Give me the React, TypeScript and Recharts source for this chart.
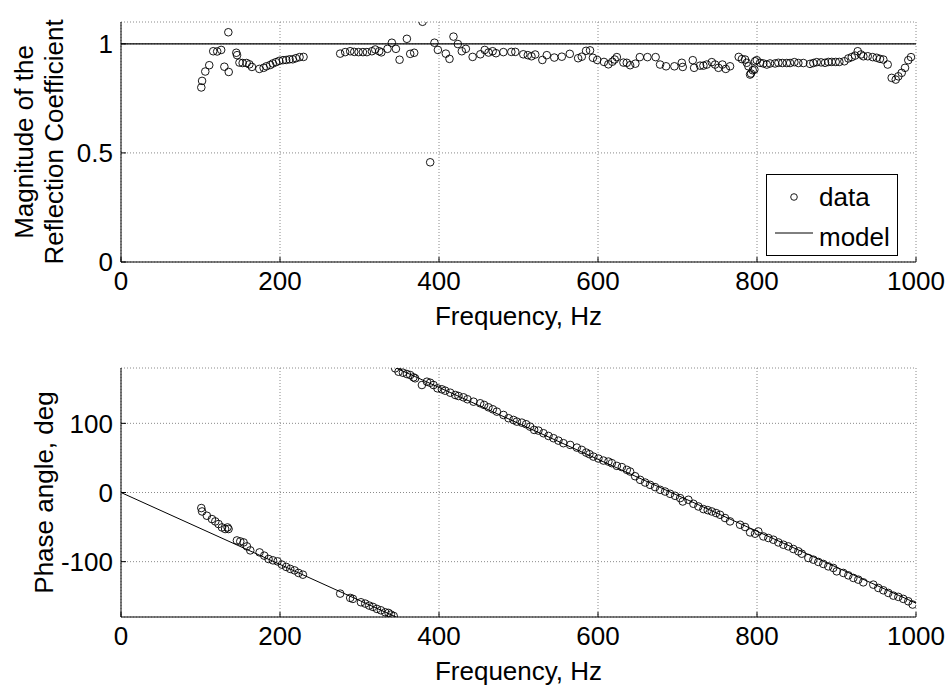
import React from 'react';
import { ComposedChart, Scatter, XAxis, YAxis, CartesianGrid, Legend, Label } from 'recharts';

const FONT = '"Liberation Sans", Arial, Helvetica, sans-serif';

// axis ticks
const freqTicks = [0, 200, 400, 600, 800, 1000];
const magTicks = [0, 0.5, 1];
const phaseTicks = [-100, 0, 100];

// measured magnitude of the reflection coefficient
const magFreq = [
  101, 102, 106, 111, 116, 121, 126, 130, 135, 135.5,
  145, 146, 149, 153, 158, 161.5, 164.7, 174, 179.4, 183,
  187.7, 191, 195, 199, 203.7, 207.8, 212, 216, 220, 224.6,
  229.6,
  275.7, 282, 288.3, 293.4, 298.8, 304.3, 309.3, 315.6, 319.8, 324.8,
  327.5, 335.2, 340.7, 345.8, 350.4, 359.6, 363.8, 368.8, 379.3, 388.9,
  394.3, 398.6, 408.6, 413.2, 418.2, 423.7, 428.7, 433.8, 442.3, 452,
  457.5, 462.3, 467.5, 471.7, 481, 491, 496, 506, 511.7, 516.3,
  521, 530, 535.6, 545, 554.5, 564.5, 575, 579.6, 585, 590,
  593.6, 599, 607.5, 613, 618, 621, 623.7, 632, 636.2, 640.4,
  647, 652.6, 662.2, 672.5, 678.1, 685.6, 696.1, 705.4, 706.6, 719.2,
  720.9, 728.4, 732.6, 736.8, 743.1, 747.3, 751.5, 756.5, 760.7, 766.1,
  777, 781, 785, 787.1, 789.2, 791.3, 792.5, 794.6, 796.7, 797.6,
  799.7, 803.9, 808, 812.3, 816.4, 822.7, 826.9, 831.9, 837.4, 841.6,
  847, 852, 858.3, 866.7, 870.9, 875.1, 880.6, 885.6, 889.8, 894,
  899, 903.6, 909.9, 914.9, 919.2, 923.3, 926.7, 930.8, 933.8, 939.3,
  945.5, 950.6, 954.7, 958.9, 964.4, 969.4, 974.5, 977.8, 982, 986.2,
  990.3, 993.7,
];
const magValue = [
  0.8, 0.83, 0.873, 0.902, 0.966, 0.965, 0.972, 0.895, 1.053, 0.871,
  0.959, 0.948, 0.914, 0.912, 0.912, 0.906, 0.894, 0.885, 0.89, 0.897,
  0.903, 0.91, 0.916, 0.922, 0.925, 0.926, 0.929, 0.929, 0.934, 0.939,
  0.94,
  0.955, 0.962, 0.966, 0.963, 0.962, 0.962, 0.962, 0.966, 0.974, 0.966,
  0.961, 0.977, 1.005, 0.977, 0.927, 1.023, 0.954, 0.959, 1.101, 0.457,
  1.005, 0.972, 0.955, 0.931, 1.033, 0.999, 0.966, 0.977, 0.94, 0.952,
  0.972, 0.96, 0.966, 0.957, 0.962, 0.963, 0.963, 0.952, 0.948, 0.943,
  0.951, 0.926, 0.948, 0.937, 0.941, 0.954, 0.934, 0.941, 0.968, 0.97,
  0.936, 0.926, 0.917, 0.906, 0.918, 0.928, 0.939, 0.914, 0.913, 0.902,
  0.909, 0.939, 0.939, 0.939, 0.905, 0.897, 0.897, 0.913, 0.894, 0.925,
  0.89, 0.9, 0.9, 0.905, 0.916, 0.905, 0.89, 0.905, 0.885, 0.897,
  0.94, 0.93, 0.928, 0.913, 0.897, 0.859, 0.864, 0.879, 0.882, 0.92,
  0.925, 0.913, 0.91, 0.905, 0.91, 0.91, 0.913, 0.912, 0.912, 0.912,
  0.916, 0.912, 0.912, 0.908, 0.912, 0.916, 0.915, 0.913, 0.917, 0.917,
  0.917, 0.917, 0.92, 0.933, 0.939, 0.946, 0.966, 0.951, 0.943, 0.943,
  0.939, 0.936, 0.931, 0.928, 0.905, 0.844, 0.836, 0.851, 0.867, 0.89,
  0.925, 0.939,
];

// measured phase angle
const phaseFreq = [
  101, 102, 108, 114.4, 118.6, 122.7, 127, 131, 134, 135.3,
  145.8, 150, 154.2, 158.4, 162.6, 174.3, 180.2, 185.6, 191.1, 196.9,
  202.4, 207.8, 212.9, 218.3, 223.3, 228.8,
  275.7, 288.3, 291.7, 301.8, 307.2, 312.2, 316.9, 321.9, 326.9, 332.3,
  336.5, 339.5, 343,
  344.9, 349.1, 354.6, 359.6, 363.8, 367.9, 370, 378.5, 384.8, 388.9,
  393.1, 398.1, 403.6, 407.8, 414.1, 420.4, 424.5, 430.8, 435.8, 443.4,
  451.8, 456.8, 462.2, 467.7, 472.8, 481.1, 487.4, 493.7, 497.9, 504.2,
  509.6, 514.6, 519.7, 525.1, 531.4, 537.7, 544, 550.2, 556.5, 565,
  573.4, 579.6, 585.1, 589.2, 594.2, 600.5, 606.8, 613.1, 617.4, 623.7,
  630, 636.2, 640.4, 646.7, 653, 659.3, 665.5, 671.8, 678.1, 684.4,
  690.7, 697, 703.3, 706.6, 713.7, 720, 726.3, 732.6, 738, 743.1,
  748.5, 753.5, 759.8, 766.1, 778.7, 785, 791.3, 797.6, 801.7, 808,
  814.3, 820.6, 826.9, 833.2, 839.4, 845.7, 852, 856.3, 864.6, 870.9,
  877.2, 883.4, 889.7, 896, 900.3, 908.6, 914.9, 921.2, 927.4, 933.7,
  946.3, 952.6, 958.9, 965.2, 971.5, 977.8, 984, 990.3, 995.8,
];
const phaseValue = [
  -22.5, -27.4, -33.6, -38.4, -41.8, -45.6, -50.5, -52.8, -50.5, -52.8,
  -69.3, -70.7, -72.2, -77.9, -83.7, -86.6, -91.3, -96.1, -98.1, -99.6,
  -104.3, -107.6, -110.5, -112.6, -116.3, -118.8,
  -146.2, -152.4, -153.8, -158.7, -160.6, -163.5, -165.4, -168.3, -170.3, -173.2,
  -174.1, -176.5, -178.5,
  179.5, 174.6, 173.2, 171.3, 169.8, 166.5, 165.1, 155.4, 160.2, 158.7,
  155.4, 150.6, 149.2, 147.2, 144.3, 141, 139.5, 137.6, 134.8, 131.3,
  129, 126.6, 123.2, 120.3, 116.9, 112.1, 107.4, 104.9, 102.5, 101,
  98.7, 95.2, 90.5, 89.5, 85.7, 81.8, 78.5, 75, 71.3, 68.8,
  64.9, 61.6, 57.7, 55.4, 51.9, 49.1, 46.2, 44.7, 42.4, 38.5,
  36.7, 32.8, 30.3, 23.5, 18.3, 14.4, 11.1, 7.8, 3.9, 1.4,
  -1.9, -4.8, -8.1, -13, -10.5, -16.3, -20.2, -24, -25.5, -27.4,
  -29.7, -32.2, -36.9, -41.8, -46.6, -49.9, -57.7, -59.6, -56.3, -63.5,
  -65.8, -68.3, -72.2, -75.5, -77.9, -81.7, -85.1, -88.5, -94.7, -97.1,
  -100.4, -103.3, -106.8, -109.1, -114, -116.3, -119.8, -123.5, -126, -129.9,
  -133.2, -138, -141.4, -145.2, -149.1, -150.9, -153.8, -157.3, -162,
];

// model curves
const magModelFreq = [0, 1000];
const magModelValue = [1, 1];
const phaseModelFreqA = [0, 346];
const phaseModelValueA = [0, -180];
const phaseModelFreqB = [346, 1000];
const phaseModelValueB = [180, -160];

const toPoints = (xs: number[], ys: number[]) => xs.map((f, i) => ({ f, v: ys[i] }));

const magData = toPoints(magFreq, magValue);
const magModel = toPoints(magModelFreq, magModelValue);
const phaseData = toPoints(phaseFreq, phaseValue);
const phaseModelA = toPoints(phaseModelFreqA, phaseModelValueA);
const phaseModelB = toPoints(phaseModelFreqB, phaseModelValueB);

const tickStyle = { fontSize: 26, fill: '#000', fontFamily: FONT };
const blackLine = { stroke: '#000', strokeWidth: 1 };

const OpenCircle = (props: any) => {
  const { cx, cy } = props;
  if (cx == null || cy == null) return <g />;
  return <circle cx={cx} cy={cy} r={3.8} fill="none" stroke="#000" strokeWidth={0.9} />;
};

const NoDot = () => <g />;

const xLabel = (props: any) => {
  const vb = props.viewBox;
  return (
    <text x={vb.x + vb.width / 2} y={vb.y + 63} textAnchor="middle" fontSize={26} fontFamily={FONT} fill="#000">
      Frequency, Hz
    </text>
  );
};

const yLabel = (lines: { text: string; x: number }[]) => (props: any) => {
  const vb = props.viewBox;
  const cy = vb.y + vb.height / 2;
  return (
    <g>
      {lines.map((l) => (
        <text
          key={l.text}
          x={l.x}
          y={cy}
          transform={`rotate(-90, ${l.x}, ${cy})`}
          textAnchor="middle"
          fontSize={26}
          fontFamily={FONT}
          fill="#000"
        >
          {l.text}
        </text>
      ))}
    </g>
  );
};

const MagLegend = () => (
  <svg width={132} height={82} style={{ display: 'block' }}>
    <rect x={0.5} y={0.5} width={131} height={81} fill="#fff" stroke="#000" />
    <circle cx={28} cy={23} r={3.3} fill="none" stroke="#000" strokeWidth={0.9} />
    <text x={53} y={32} fontSize={26} fontFamily={FONT} fill="#000">data</text>
    <line x1={9} x2={47} y1={59} y2={59} stroke="#000" />
    <text x={53} y={72} fontSize={26} fontFamily={FONT} fill="#000">model</text>
  </svg>
);

export default function App() {
  return (
    <div style={{ position: 'absolute', left: 0, top: 0, width: 951, height: 691, background: '#fff' }}>
      <div style={{ position: 'absolute', left: 0, top: 0 }}>
        <ComposedChart width={951} height={340} margin={{ top: 22, right: 35, bottom: 0, left: 0 }}>
          <CartesianGrid stroke="#8a8a8a" strokeDasharray="1 2" />
          <XAxis
            type="number"
            dataKey="f"
            domain={[0, 1000]}
            ticks={freqTicks}
            interval={0}
            allowDataOverflow
            height={78}
            tickSize={-5}
            tickMargin={15}
            tick={tickStyle}
            axisLine={blackLine}
            tickLine={blackLine}
          >
            <Label content={xLabel} />
          </XAxis>
          <XAxis
            xAxisId="top"
            orientation="top"
            type="number"
            domain={[0, 1000]}
            ticks={freqTicks}
            interval={0}
            height={0}
            tickSize={-5}
            tick={false}
            axisLine={false}
            tickLine={blackLine}
          />
          <YAxis
            type="number"
            dataKey="v"
            domain={[0, 1.1]}
            ticks={magTicks}
            interval={0}
            allowDataOverflow
            width={121}
            tickSize={-5}
            tickMargin={13}
            tick={tickStyle}
            axisLine={blackLine}
            tickLine={blackLine}
          >
            <Label
              content={yLabel([
                { text: 'Magnitude of the', x: 33 },
                { text: 'Reflection Coefficient', x: 63 },
              ])}
            />
          </YAxis>
          <YAxis
            yAxisId="right"
            orientation="right"
            type="number"
            domain={[0, 1.1]}
            ticks={magTicks}
            interval={0}
            width={0}
            tickSize={-5}
            tick={false}
            axisLine={false}
            tickLine={blackLine}
          />
          <Scatter data={magModel} dataKey="v" shape={NoDot} line={{ stroke: '#000', strokeWidth: 1.3 }} isAnimationActive={false} />
          <Scatter data={magData} dataKey="v" shape={OpenCircle} isAnimationActive={false} />
          <Legend
            layout="horizontal"
            verticalAlign="middle"
            align="center"
            wrapperStyle={{ position: 'absolute', left: 766, top: 174, width: 132, height: 82 }}
            content={MagLegend}
          />
        </ComposedChart>
      </div>
      <div style={{ position: 'absolute', left: 0, top: 340 }}>
        <ComposedChart width={951} height={351} margin={{ top: 28, right: 35, bottom: 0, left: 0 }}>
          <CartesianGrid stroke="#8a8a8a" strokeDasharray="1 2" />
          <XAxis
            type="number"
            dataKey="f"
            domain={[0, 1000]}
            ticks={freqTicks}
            interval={0}
            allowDataOverflow
            height={74}
            tickSize={-5}
            tickMargin={15}
            tick={tickStyle}
            axisLine={blackLine}
            tickLine={blackLine}
          >
            <Label content={xLabel} />
          </XAxis>
          <XAxis
            xAxisId="top"
            orientation="top"
            type="number"
            domain={[0, 1000]}
            ticks={freqTicks}
            interval={0}
            height={0}
            tickSize={-5}
            tick={false}
            axisLine={blackLine}
            tickLine={blackLine}
          />
          <YAxis
            type="number"
            dataKey="v"
            domain={[-180, 180]}
            ticks={phaseTicks}
            interval={0}
            allowDataOverflow
            width={121}
            tickSize={-5}
            tickMargin={13}
            tick={tickStyle}
            axisLine={blackLine}
            tickLine={blackLine}
          >
            <Label content={yLabel([{ text: 'Phase angle, deg', x: 53 }])} />
          </YAxis>
          <YAxis
            yAxisId="right"
            orientation="right"
            type="number"
            domain={[-180, 180]}
            ticks={phaseTicks}
            interval={0}
            width={0}
            tickSize={-5}
            tick={false}
            axisLine={blackLine}
            tickLine={blackLine}
          />
          <Scatter data={phaseModelA} dataKey="v" shape={NoDot} line={{ stroke: '#000', strokeWidth: 1 }} isAnimationActive={false} />
          <Scatter data={phaseModelB} dataKey="v" shape={NoDot} line={{ stroke: '#000', strokeWidth: 1 }} isAnimationActive={false} />
          <Scatter data={phaseData} dataKey="v" shape={OpenCircle} isAnimationActive={false} />
        </ComposedChart>
      </div>
    </div>
  );
}
